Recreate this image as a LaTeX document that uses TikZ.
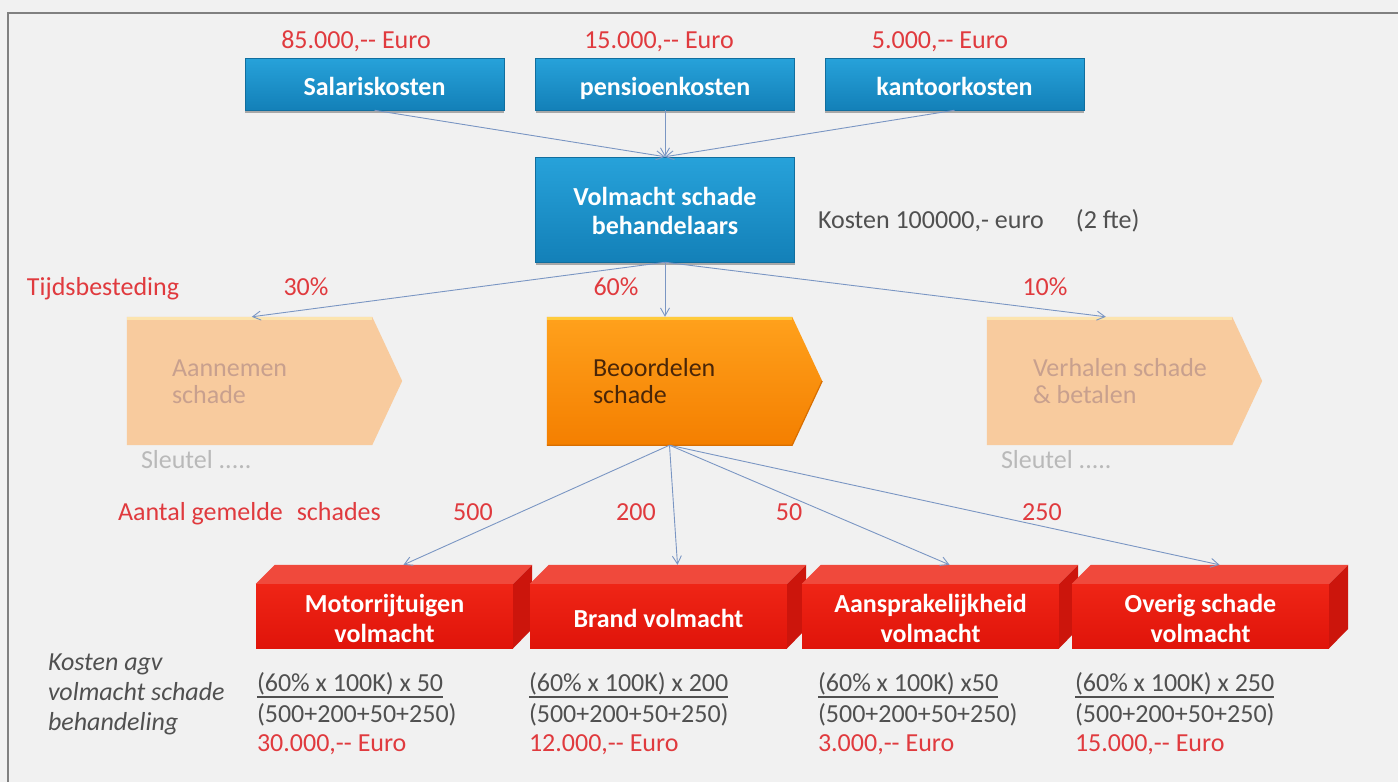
\documentclass[tikz,border=0pt]{standalone}
\usepackage{fontspec}
\setmainfont{Carlito}
\usetikzlibrary{arrows.meta,calc,shadows}

\newcommand{\sz}{\fontsize{26}{30}\selectfont}

\definecolor{pagebg}{HTML}{F1F1F1}
\definecolor{framegray}{HTML}{808080}
\definecolor{costred}{HTML}{E03A3E}
\definecolor{darktext}{HTML}{505050}
\definecolor{linkblue}{HTML}{7A96C3}
\definecolor{blueTop}{HTML}{27A2DA}
\definecolor{blueBottom}{HTML}{1380B8}
\definecolor{blueEdge}{HTML}{116E9E}
\definecolor{peach}{HTML}{F8CB9E}
\definecolor{peachTop}{HTML}{FCE4AE}
\definecolor{peachText}{HTML}{C8A08E}
\definecolor{orangeTop}{HTML}{FFA11C}
\definecolor{orangeBottom}{HTML}{F47F00}
\definecolor{orangeHi}{HTML}{FFCB3C}
\definecolor{orangeEdge}{HTML}{D86E00}
\definecolor{orangeText}{HTML}{4A2608}
\definecolor{keygray}{HTML}{B9B9B9}
\definecolor{redFrontTop}{HTML}{EF2516}
\definecolor{redFrontBottom}{HTML}{E0140A}
\definecolor{redTop}{HTML}{F0493C}
\definecolor{redSide}{HTML}{CC150C}

\tikzset{
  txt/.style={inner sep=0pt, outer sep=0pt, font=\sz},
  cost/.style={txt, text=costred},
  note/.style={txt, text=darktext},
  boxtxt/.style={txt, anchor=base, text=white, font=\sz\bfseries},
  bluebox/.style={rectangle, inner sep=0pt, minimum width=259pt,
    top color=blueTop, bottom color=blueBottom, draw=blueEdge, line width=0.5pt,
    drop shadow={shadow xshift=0pt, shadow yshift=-3pt, opacity=0.3, fill=black}},
  link/.style={draw=linkblue, line width=0.9pt, -{Straight Barb[length=8pt,width=9pt]}},
  chevbody/.style={rectangle, inner sep=0pt, minimum width=245pt, minimum height=128pt},
  redfront/.style={rectangle, inner sep=0pt, minimum width=257pt, minimum height=64pt,
    top color=redFrontTop, bottom color=redFrontBottom},
  formula/.style={note, anchor=base west},
  firstline/.style={formula, text depth=6pt},
}

\begin{document}
\begin{tikzpicture}[x=1pt,y=-1pt]
\useasboundingbox (0,0) rectangle (1398,782);
\fill[pagebg] (0,0) rectangle (1398,782);
\draw[framegray, line width=1.6pt] (8,782) -- (8,13) -- (1398,13);

% cost items
\node[cost, anchor=base] (c85) at (356,48) {85.000,-{}- Euro};
\node[cost, anchor=base] (c15) at (659,48) {15.000,-{}- Euro};
\node[cost, anchor=base] (c5)  at (940,48) {5.000,-{}- Euro};

\node[bluebox, minimum height=52pt] (sal) at (374.5,84) {};
\node[bluebox, minimum height=52pt] (pen) at (665,84) {};
\node[bluebox, minimum height=52pt] (kan) at (954.5,84) {};
\node[boxtxt] (salT) at (374.5,95) {Salariskosten};
\node[boxtxt] (penT) at (665,95) {pensioenkosten};
\node[boxtxt] (kanT) at (954.5,95) {kantoorkosten};

% claims handlers
\node[bluebox, minimum height=105pt] (vol) at (665,209.5) {};
\node[boxtxt] (volT1) at (665,205) {Volmacht schade};
\node[boxtxt] (volT2) at (665,234) {behandelaars};
\node[note, anchor=base west] (kost) at (818,228) {Kosten 100000,- euro\hspace{32pt}(2 fte)};

\draw[link] (sal.south) -- (vol.north);
\draw[link] (pen.south) -- (vol.north);
\draw[link] (kan.south) -- (vol.north);

% time spent
\node[cost, anchor=base west] (tijd) at (27,295) {Tijdsbesteding};
\node[cost, anchor=base] (p30) at (306,295) {30\%};
\node[cost, anchor=base] (p60) at (616,295) {60\%};
\node[cost, anchor=base] (p10) at (1045,295) {10\%};

% process chevrons
\node[chevbody] (aan) at (249.5,381) {};
\node[chevbody] (beo) at (669.5,381) {};
\node[chevbody] (ver) at (1109.5,381) {};

\foreach \c in {aan,ver} {
  \fill[peach] (\c.north west) -- (\c.north east) -- ($(\c.east)+(30,0)$)
    -- (\c.south east) -- (\c.south west) -- cycle;
  \draw[peachTop, line width=3pt] ($(\c.north west)+(0,1.5)$) -- ($(\c.north east)+(0,1.5)$);
}
\shade[top color=orangeTop, bottom color=orangeBottom]
  (beo.north west) -- (beo.north east) -- ($(beo.east)+(30,0)$)
  -- (beo.south east) -- (beo.south west) -- cycle;
\draw[orangeHi, line width=3pt] ($(beo.north west)+(0,1.5)$) -- ($(beo.north east)+(0,1.5)$);
\draw[orangeEdge, line width=1.2pt] (beo.south west) -- (beo.south east) -- ($(beo.east)+(30,0)$);

\node[txt, anchor=base west, text=peachText] (aanT1) at (172,376) {Aannemen};
\node[txt, anchor=base west, text=peachText] (aanT2) at (172,403) {schade};
\node[txt, anchor=base west, text=orangeText] (beoT1) at (593,376) {Beoordelen};
\node[txt, anchor=base west, text=orangeText] (beoT2) at (593,403) {schade};
\node[txt, anchor=base west, text=peachText] (verT1) at (1033,376) {Verhalen schade};
\node[txt, anchor=base west, text=peachText] (verT2) at (1033,403) {\& betalen};

\node[txt, anchor=base west, text=keygray] (key1) at (141,468) {Sleutel .....};
\node[txt, anchor=base west, text=keygray] (key2) at (1001,468) {Sleutel .....};

\coordinate (aanIn) at ($(aan.north west)+(125,0)$);
\coordinate (verIn) at ($(ver.north west)+(119,0)$);
\draw[link] (vol.south) -- (aanIn);
\draw[link] (vol.south) -- (vol.south |- beo.north);
\draw[link] (vol.south) -- (verIn);

% reported claims
\node[cost, anchor=base west] (aant) at (118,520) {Aantal gemelde\hspace{14pt}schades};
\node[cost, anchor=base] (n500) at (473,520) {500};
\node[cost, anchor=base] (n200) at (636,520) {200};
\node[cost, anchor=base] (n50)  at (789,520) {50};
\node[cost, anchor=base] (n250) at (1042,520) {250};

% mandate blocks
\foreach \n/\x in {motor/384.5, brand/658.5, aans/930.5, overig/1200.5} {
  \node[redfront] (\n) at (\x,616) {};
  \fill[redTop] (\n.north west) -- ++(19,-19) -- ($(\n.north east)+(19,-19)$)
    -- (\n.north east) -- cycle;
  \fill[redSide] (\n.north east) -- ++(19,-19) -- ++(0,64) -- (\n.south east) -- cycle;
  \coordinate (\n-in) at ($(\n.north)+(19,-19)$);
}
\node[boxtxt] (motorT1) at (384.5,612) {Motorrijtuigen};
\node[boxtxt] (motorT2) at (384.5,642) {volmacht};
\node[boxtxt] (brandT) at (658.5,627) {Brand volmacht};
\node[boxtxt] (aansT1) at (930.5,612) {Aansprakelijkheid};
\node[boxtxt] (aansT2) at (930.5,642) {volmacht};
\node[boxtxt] (overigT1) at (1200.5,612) {Overig schade};
\node[boxtxt] (overigT2) at (1200.5,642) {volmacht};

\foreach \n in {motor,brand,aans,overig}
  \draw[link] (beo.south) -- (\n-in);

% cost allocation
\node[txt, anchor=base west, text=darktext, font=\sz\itshape] (agv1) at (48,670) {Kosten agv};
\node[txt, anchor=base west, text=darktext, font=\sz\itshape] (agv2) at (48,700) {volmacht schade};
\node[txt, anchor=base west, text=darktext, font=\sz\itshape] (agv3) at (48,730) {behandeling};

\foreach \n/\x/\f/\r in {fa/257/{x 50}/{30.000}, fb/529/{x 200}/{12.000},
                         fc/818/{x50}/{3.000}, fd/1075/{x 250}/{15.000}} {
  \node[firstline] (\n1) at (\x,691) {(60\% x 100K) \f};
  \draw[darktext, line width=1.5pt] (\n1.south west) -- (\n1.south east);
  \node[formula] (\n2) at (\x,722) {(500+200+50+250)};
  \node[cost, anchor=base west] (\n3) at (\x,751) {\r,-{}- Euro};
}
\end{tikzpicture}
\end{document}
